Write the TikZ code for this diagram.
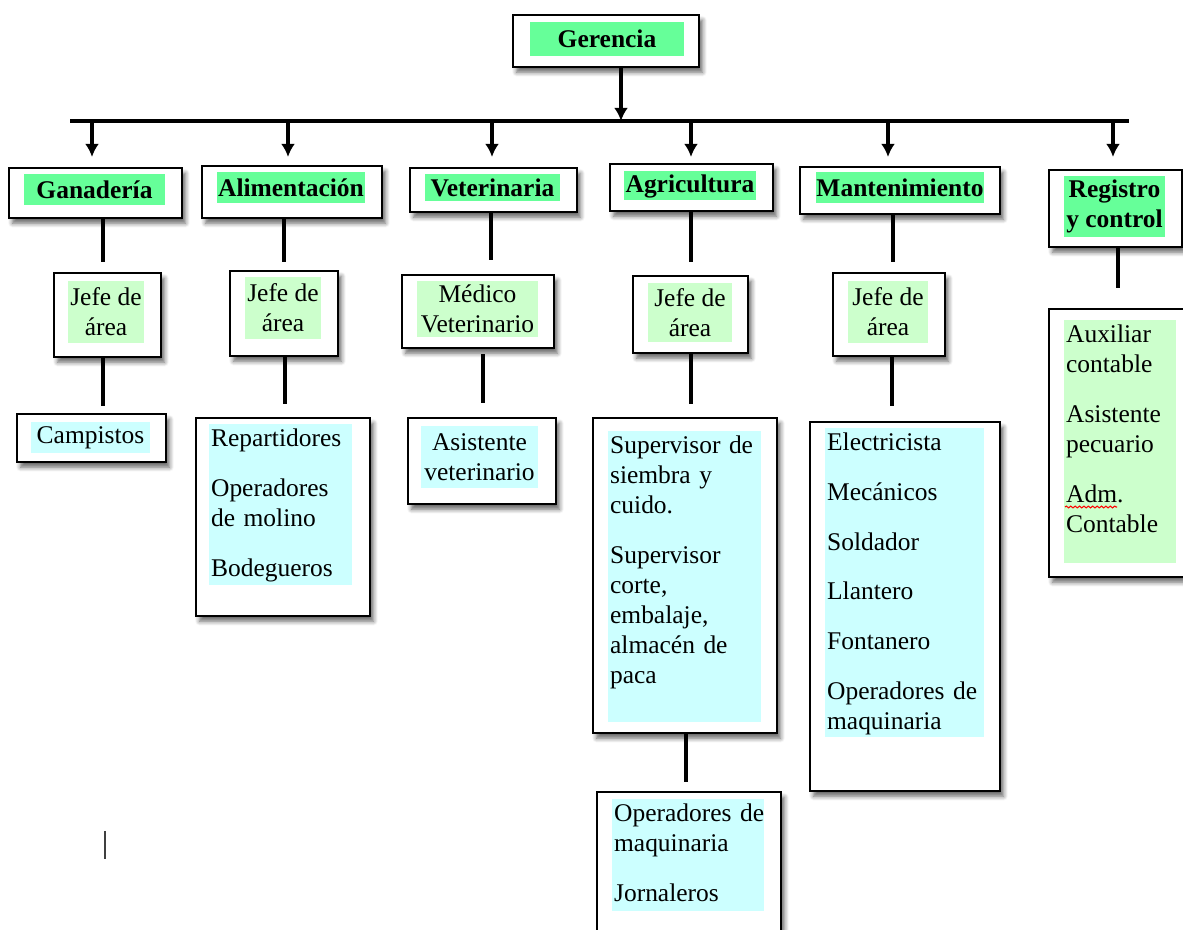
\documentclass[tikz,border=0pt]{standalone}
\usepackage{fontspec}
\setmainfont{Liberation Serif}
\usetikzlibrary{arrows.meta,shadows.blur,decorations.pathmorphing}

\definecolor{verdeFuerte}{RGB}{102,255,153}
\definecolor{verdeClaro}{RGB}{204,255,204}
\definecolor{cianClaro}{RGB}{204,255,255}
\newcommand\letra{\fontsize{14.5}{17.07}\selectfont}

\tikzset{
  caja/.style={draw=black,line width=1.3pt,fill=white,inner sep=0pt,
    blur shadow={shadow xshift=2pt,shadow yshift=-3pt,shadow blur steps=6,
      shadow blur radius=2.5pt,shadow opacity=60}},
  resalte/.style={fill=#1,inner sep=0pt,font=\letra,align=center},
  titulo/.style={resalte=verdeFuerte,font=\letra\bfseries},
  lista/.style={anchor=north west,inner xsep=1pt,inner ysep=0.9pt,
    text width=3.4cm,align=left,font=\letra},
  flecha/.style={-{Latex[length=7.5pt,width=8pt]},line width=2.3pt},
  linea/.style={line width=2.1pt},
}

\begin{document}
\begin{tikzpicture}
\useasboundingbox (0,0) rectangle (23.66,-18.60);
\node[caja,minimum width=3.72cm,minimum height=1.04cm] (b0) at (12.12,-0.82) {};
\node[caja,minimum width=3.46cm,minimum height=1.00cm] (b1) at (1.91,-3.86) {};
\node[caja,minimum width=3.60cm,minimum height=1.04cm] (b2) at (5.84,-3.84) {};
\node[caja,minimum width=3.34cm,minimum height=0.88cm] (b3) at (9.87,-3.80) {};
\node[caja,minimum width=3.26cm,minimum height=0.94cm] (b4) at (13.83,-3.75) {};
\node[caja,minimum width=4.00cm,minimum height=0.94cm] (b5) at (18.00,-3.81) {};
\node[caja,minimum width=2.66cm,minimum height=1.54cm] (b6) at (22.31,-4.17) {};
\node[caja,minimum width=2.14cm,minimum height=1.68cm] (b7) at (2.15,-6.30) {};
\node[caja,minimum width=2.16cm,minimum height=1.70cm] (b8) at (5.68,-6.27) {};
\node[caja,minimum width=3.04cm,minimum height=1.46cm] (b9) at (9.56,-6.23) {};
\node[caja,minimum width=2.30cm,minimum height=1.54cm] (b10) at (13.81,-6.29) {};
\node[caja,minimum width=2.24cm,minimum height=1.66cm] (b11) at (17.78,-6.29) {};
\node[caja,minimum width=3.02cm,minimum height=5.36cm] (b12) at (22.49,-8.86) {};
\node[caja,minimum width=2.98cm,minimum height=0.96cm] (b13) at (1.83,-8.76) {};
\node[caja,minimum width=3.48cm,minimum height=3.96cm] (b14) at (5.66,-10.34) {};
\node[caja,minimum width=2.96cm,minimum height=1.72cm] (b15) at (9.64,-9.22) {};
\node[caja,minimum width=3.68cm,minimum height=6.30cm] (b16) at (13.70,-11.51) {};
\node[caja,minimum width=3.80cm,minimum height=7.38cm] (b17) at (18.10,-12.13) {};
\node[caja,minimum width=3.68cm,minimum height=3.36cm] (b18) at (13.78,-17.52) {};
% resaltados
\node[titulo,minimum width=3.08cm,minimum height=0.68cm] (t0) at (12.14,-0.78) {Gerencia};
\node[titulo,minimum width=2.82cm,minimum height=0.62cm] (t1) at (1.89,-3.79) {Ganadería};
\node[titulo,minimum width=2.96cm,minimum height=0.62cm] (t2) at (5.82,-3.75) {Alimentación};
\node[titulo,minimum width=2.70cm,minimum height=0.54cm] (t3) at (9.85,-3.75) {Veterinaria};
\node[titulo,minimum width=2.64cm,minimum height=0.58cm] (t4) at (13.80,-3.72) {Agricultura};
\node[titulo,minimum width=3.36cm,minimum height=0.62cm] (t5) at (18.00,-3.75) {Mantenimiento};
\node[titulo,minimum width=2.02cm,minimum height=1.22cm] (t6) at (22.29,-4.13) {Registro\\y control};
\node[resalte=verdeClaro,minimum width=1.52cm,minimum height=1.24cm] (t7) at (2.12,-6.24) {Jefe de\\área};
\node[resalte=verdeClaro,minimum width=1.52cm,minimum height=1.24cm] (t8) at (5.66,-6.16) {Jefe de\\área};
\node[resalte=verdeClaro,minimum width=2.42cm,minimum height=1.12cm] (t9) at (9.55,-6.18) {Médico\\Veterinario};
\node[resalte=verdeClaro,minimum width=1.68cm,minimum height=1.18cm] (t10) at (13.80,-6.25) {Jefe de\\área};
\node[resalte=verdeClaro,minimum width=1.60cm,minimum height=1.24cm] (t11) at (17.76,-6.24) {Jefe de\\área};
\node[resalte=verdeClaro,anchor=north west,minimum width=2.24cm,minimum height=4.86cm] (t12) at (21.28,-6.40) {};
\node[resalte=cianClaro,minimum width=2.38cm,minimum height=0.62cm] (t13) at (1.81,-8.75) {Campistos};
\node[resalte=cianClaro,anchor=north west,minimum width=2.86cm,minimum height=3.22cm] (t14) at (4.18,-8.48) {};
\node[resalte=cianClaro,minimum width=2.34cm,minimum height=1.24cm] (t15) at (9.59,-9.14) {Asistente\\veterinario};
\node[resalte=cianClaro,anchor=north west,minimum width=3.06cm,minimum height=5.82cm] (t16) at (12.16,-8.62) {};
\node[resalte=cianClaro,anchor=north west,minimum width=3.18cm,minimum height=6.18cm] (t17) at (16.50,-8.56) {};
\node[resalte=cianClaro,anchor=north west,minimum width=3.04cm,minimum height=2.24cm] (t18) at (12.24,-15.98) {};
\node[lista] (l12) at (t12.north west) {\strut Auxiliar\\contable\\[11.2pt]Asistente\\pecuario\\[11.2pt]Adm.\\Contable};
\node[lista] (l14) at (t14.north west) {\strut Repartidores\\[11.2pt]Operadores\\de molino\\[11.2pt]Bodegueros};
\node[lista] (l16) at (t16.north west) {\strut Supervisor de\\siembra y\\cuido.\\[11.2pt]Supervisor\\corte,\\embalaje,\\almacén de\\paca};
\node[lista] (l17) at (t17.north west) {\strut Electricista\\[11.2pt]Mecánicos\\[11.2pt]Soldador\\[11.2pt]Llantero\\[11.2pt]Fontanero\\[11.2pt]Operadores de\\maquinaria};
\node[lista] (l18) at (t18.north west) {\strut Operadores de\\maquinaria\\[11.2pt]Jornaleros};
\draw[red,line width=0.6pt,decorate,decoration={snake,amplitude=0.5pt,segment length=2.5pt}] (21.30,-10.14) -- (22.34,-10.14);
% barra y flechas
\coordinate (bl) at (1.40,-2.42);
\coordinate (br) at (22.58,-2.42);
\draw[line width=2.3pt] (bl) -- (br);
\coordinate (q0) at (12.42,-2.42);
\coordinate (q1) at (1.84,-3.14);
\coordinate (q2) at (5.76,-3.14);
\coordinate (q3) at (9.84,-3.14);
\coordinate (q4) at (13.82,-3.14);
\coordinate (q5) at (17.76,-3.14);
\coordinate (q6) at (22.26,-3.14);
\draw[flecha] (q0 |- b0.south) -- (q0);
\draw[flecha] (q1 |- bl) -- (q1);
\draw[flecha] (q2 |- bl) -- (q2);
\draw[flecha] (q3 |- bl) -- (q3);
\draw[flecha] (q4 |- bl) -- (q4);
\draw[flecha] (q5 |- bl) -- (q5);
\draw[flecha] (q6 |- bl) -- (q6);
% lineas
\coordinate (e1) at (2.06,-5.24);
\coordinate (e2) at (5.68,-5.24);
\coordinate (e3) at (9.82,-5.20);
\coordinate (e4) at (13.82,-5.24);
\coordinate (e5) at (17.86,-5.24);
\coordinate (e6) at (22.36,-5.76);
\coordinate (e7) at (2.06,-8.12);
\coordinate (e8) at (5.70,-8.08);
\coordinate (e9) at (9.66,-8.06);
\coordinate (e10) at (13.82,-8.08);
\coordinate (e11) at (17.84,-8.12);
\coordinate (e16) at (13.72,-15.64);
\draw[linea] (e1 |- b1.south) -- (e1);
\draw[linea] (e2 |- b2.south) -- (e2);
\draw[linea] (e3 |- b3.south) -- (e3);
\draw[linea] (e4 |- b4.south) -- (e4);
\draw[linea] (e5 |- b5.south) -- (e5);
\draw[linea] (e6 |- b6.south) -- (e6);
\draw[linea] (e7 |- b7.south) -- (e7);
\draw[linea] (e8 |- b8.south) -- (e8);
\draw[linea] ([yshift=-0.1cm]e9 |- b9.south) -- (e9);
\draw[linea] (e10 |- b10.south) -- (e10);
\draw[linea] (e11 |- b11.south) -- (e11);
\draw[linea] (e16 |- b16.south) -- (e16);
\draw[line width=0.8pt,black!75] (2.10,-16.62) -- (2.10,-17.18);
\end{tikzpicture}
\end{document}
